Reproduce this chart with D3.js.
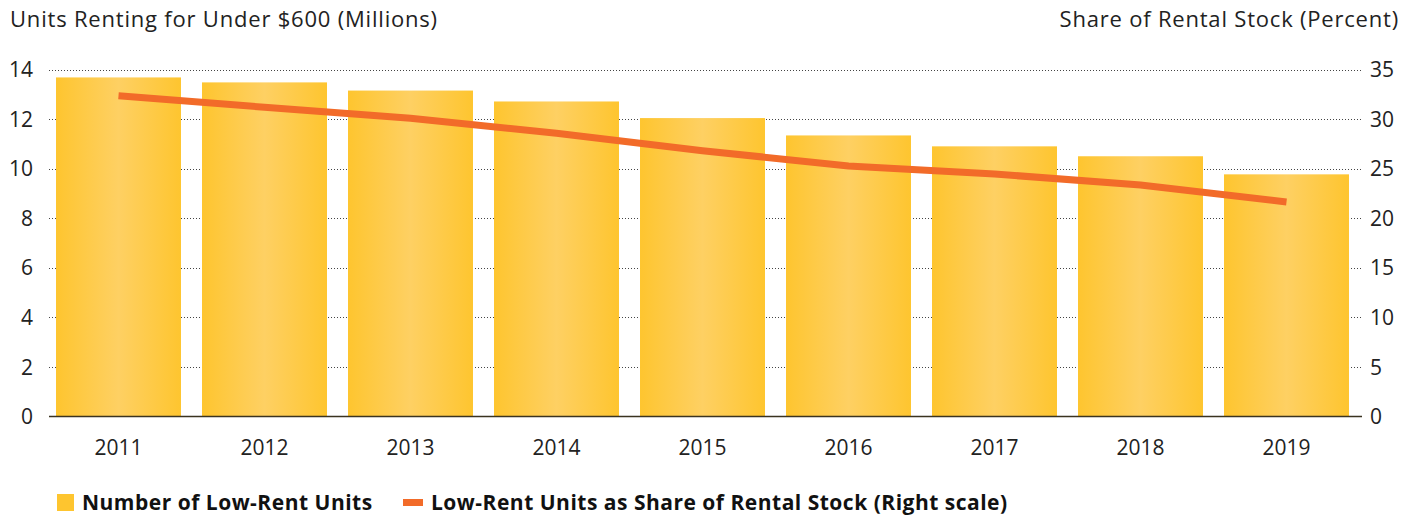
<!DOCTYPE html>
<html>
<head>
<meta charset="utf-8">
<script src="https://cdn.jsdelivr.net/npm/d3@7"></script>
<style>
  body { margin: 0; background: #fff; }
  svg { display: block; font-family: "Open Sans", Lato, sans-serif; }
</style>
</head>
<body>
<div id="chart"></div>
<script>
// chart data
const years = ['2011', '2012', '2013', '2014', '2015', '2016', '2017', '2018', '2019'];
const lowRentUnits = [13.68, 13.48, 13.15, 12.71, 12.04, 11.34, 10.9, 10.5, 9.77];
const shareOfStock = [32.36, 31.19, 30.08, 28.57, 26.81, 25.27, 24.46, 23.35, 21.64];
const leftTicks = [0, 2, 4, 6, 8, 10, 12, 14];
const rightTicks = [0, 5, 10, 15, 20, 25, 30, 35];

const width = 1416, height = 518;
const plot = { left: 49, right: 1362, top: 69.5, bottom: 416.5 };
const fontFamily = '"Open Sans", Lato, sans-serif';

const svg = d3.select('#chart')
  .append('svg')
  .attr('width', width)
  .attr('height', height);

// bar gradient: saturated edges, lighter middle
const grad = svg.append('defs').append('linearGradient')
  .attr('id', 'barGrad')
  .attr('x1', '0%').attr('x2', '100%').attr('y1', '0%').attr('y2', '0%');
grad.append('stop').attr('offset', '0%').attr('stop-color', '#fec52f');
grad.append('stop').attr('offset', '50%').attr('stop-color', '#fed063');
grad.append('stop').attr('offset', '100%').attr('stop-color', '#fec52f');

const x = d3.scaleBand()
  .domain(years)
  .range([45.5, 1359.5])
  .paddingInner(0.144)
  .paddingOuter(0.072);

const yLeft = d3.scaleLinear().domain([0, 14]).range([plot.bottom, plot.top]);
const yRight = d3.scaleLinear().domain([0, 35]).range([plot.bottom, plot.top]);

// dotted gridlines
svg.append('g')
  .selectAll('line')
  .data(leftTicks.filter(d => d > 0))
  .enter()
  .append('line')
  .attr('x1', plot.left)
  .attr('x2', plot.right)
  .attr('y1', d => Math.round(yLeft(d)) + 0.5)
  .attr('y2', d => Math.round(yLeft(d)) + 0.5)
  .attr('stroke', '#444')
  .attr('stroke-width', 1)
  .attr('stroke-dasharray', '1,2');

// bars
svg.append('g')
  .selectAll('rect')
  .data(years)
  .enter()
  .append('rect')
  .attr('x', d => x(d))
  .attr('width', x.bandwidth())
  .attr('y', (d, i) => yLeft(lowRentUnits[i]))
  .attr('height', (d, i) => plot.bottom - yLeft(lowRentUnits[i]))
  .attr('fill', 'url(#barGrad)');

// baseline
svg.append('line')
  .attr('x1', plot.left)
  .attr('x2', plot.right)
  .attr('y1', plot.bottom)
  .attr('y2', plot.bottom)
  .attr('stroke', '#3a3320')
  .attr('stroke-width', 1.5);

// share line (right scale)
const line = d3.line()
  .x((d, i) => x(years[i]) + x.bandwidth() / 2)
  .y(d => yRight(d));

svg.append('path')
  .datum(shareOfStock)
  .attr('d', line)
  .attr('fill', 'none')
  .attr('stroke', '#f26b29')
  .attr('stroke-width', 7);

// axes
const leftAxis = d3.axisLeft(yLeft).tickValues(leftTicks).tickSize(0).tickPadding(0);
const rightAxis = d3.axisRight(yRight).tickValues(rightTicks).tickSize(0).tickPadding(0);
const bottomAxis = d3.axisBottom(x).tickSize(0).tickPadding(0);

const gl = svg.append('g').attr('transform', 'translate(33,0)').call(leftAxis);
const gr = svg.append('g').attr('transform', 'translate(1370,0)').call(rightAxis);
const gb = svg.append('g').attr('transform', 'translate(0,440)').call(bottomAxis);

[gl, gr, gb].forEach(g => {
  g.select('.domain').remove();
  g.selectAll('text')
    .attr('fill', '#222')
    .style('font-size', '21px')
    .style('font-family', fontFamily);
});
gl.selectAll('text').attr('dy', '0.34em');
gr.selectAll('text').attr('dy', '0.34em');

// axis titles
svg.append('text')
  .attr('x', 10)
  .attr('y', 27)
  .attr('fill', '#222')
  .style('font-size', '22px')
  .style('letter-spacing', '0.8px')
  .text('Units Renting for Under $600 (Millions)');

svg.append('text')
  .attr('x', 1399)
  .attr('y', 27)
  .attr('text-anchor', 'end')
  .attr('fill', '#222')
  .style('font-size', '22px')
  .style('letter-spacing', '0.8px')
  .text('Share of Rental Stock (Percent)');

// legend
const legend = svg.append('g')
  .style('font-size', '21px')
  .style('font-weight', 'bold')
  .style('letter-spacing', '0.5px');
legend.append('rect')
  .attr('x', 57).attr('y', 494)
  .attr('width', 17).attr('height', 17)
  .attr('fill', '#fec52f');
legend.append('text')
  .attr('x', 82).attr('y', 510)
  .attr('fill', '#111')
  .text('Number of Low-Rent Units');
legend.append('rect')
  .attr('x', 403).attr('y', 499)
  .attr('width', 20).attr('height', 7)
  .attr('fill', '#f26b29');
legend.append('text')
  .attr('x', 431).attr('y', 510)
  .attr('fill', '#111')
  .text('Low-Rent Units as Share of Rental Stock (Right scale)');
</script>
</body>
</html>
